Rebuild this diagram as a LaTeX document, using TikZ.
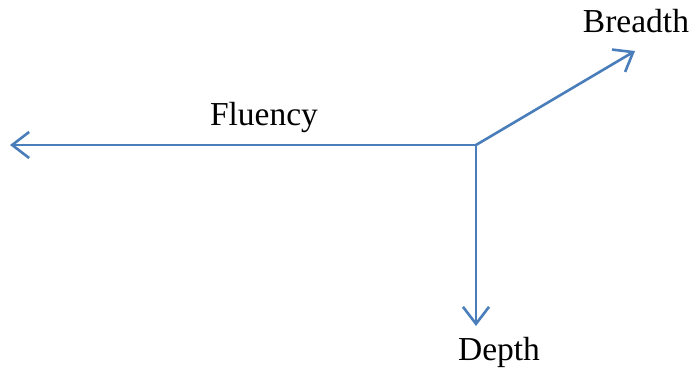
\documentclass[tikz,border=0pt]{standalone}
\usepackage{fontspec}
\setmainfont{Liberation Serif}
\usetikzlibrary{arrows.meta}
\definecolor{axisblue}{RGB}{74,126,187}
\begin{document}
\begin{tikzpicture}[x=1pt,y=-1pt,
  axis/.style={draw=axisblue,line width=2.6pt,-{Straight Barb[length=17pt,width=26pt,line width=2.6pt]}},
  lbl/.style={anchor=base,inner sep=0pt,font=\fontsize{33.5}{38}\selectfont}]
\useasboundingbox (0,0) rectangle (694,369);
\coordinate (o) at (476,145);
\coordinate (f) at (10,145);
\coordinate (b) at (635,51);
\coordinate (d) at (476,326);
\draw[axis] (o) -- (f);
\draw[axis] (o) -- (b);
\draw[axis] (o) -- (d);
\node[lbl] (fl) at (264,125) {Fluency};
\node[lbl] (br) at (636,33) {Breadth};
\node[lbl] (de) at (499,360) {Depth};
\end{tikzpicture}
\end{document}
